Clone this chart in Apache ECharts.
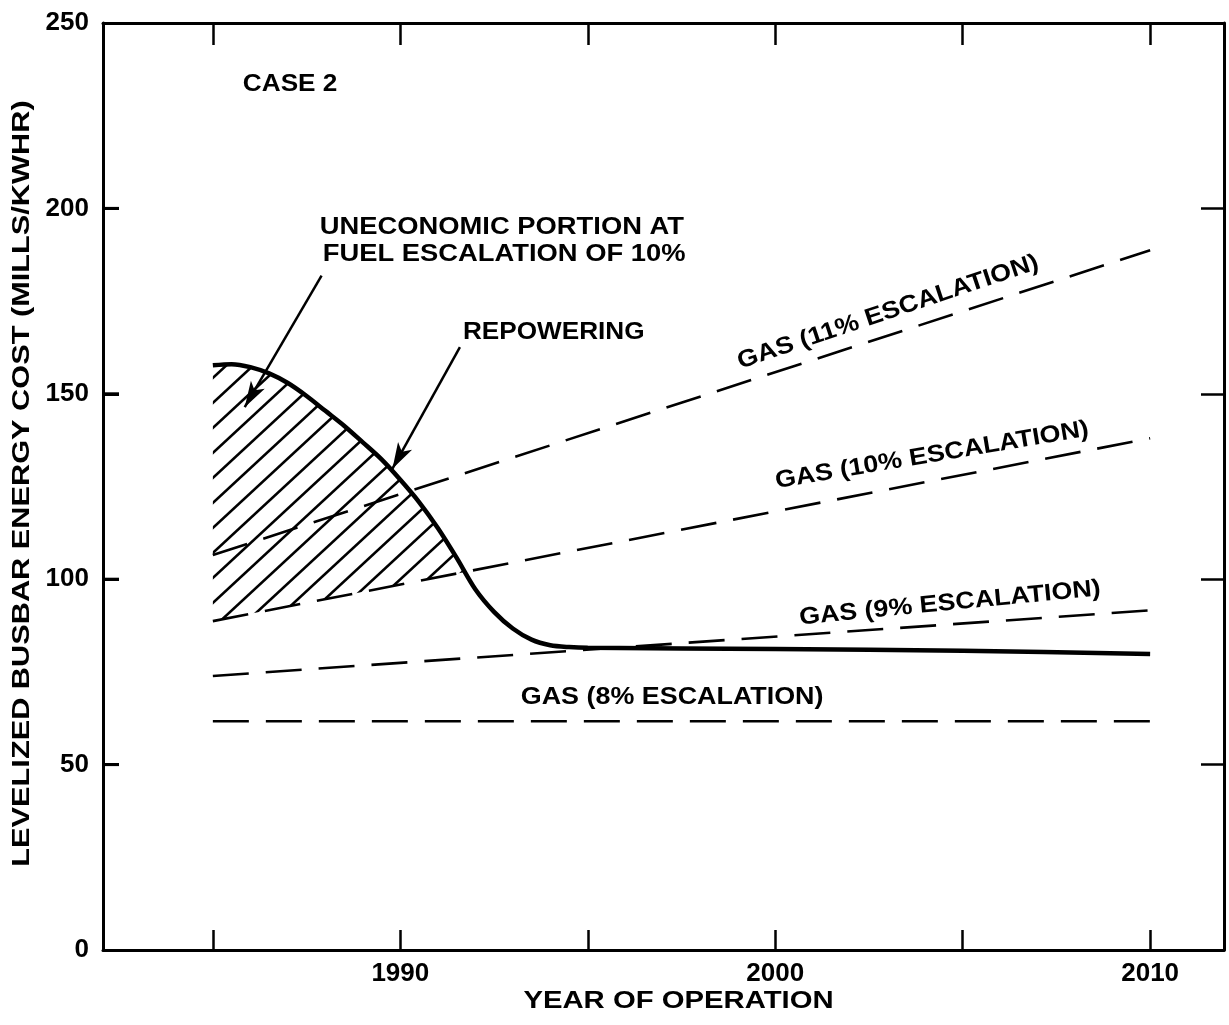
<!DOCTYPE html>
<html><head><meta charset="utf-8">
<script src="https://cdn.jsdelivr.net/npm/echarts@6/dist/echarts.min.js"></script>
<style>html,body{margin:0;padding:0;background:#fff}#c{width:1229px;height:1025px}</style>
</head><body><div id="c"></div>
<script>
// ---- data ----
const curveYears  = [1985, 1985.5, 1986, 1986.5, 1987, 1987.5, 1988, 1988.5, 1989, 1989.5, 1990, 1990.5, 1991, 1991.5, 1992, 1992.5, 1993, 1993.5, 1994, 1994.5, 1995, 2000, 2005, 2010];
const curveValues = [157.7, 158.0, 157.2, 155.5, 152.9, 149.4, 145.4, 141.4, 136.9, 132.3, 126.8, 120.8, 113.8, 105.8, 97.3, 91.2, 86.7, 83.7, 82.2, 81.7, 81.5, 81.2, 80.7, 79.8];
const gasYears = [1985, 2010];
const gas8  = [61.7, 61.7];
const gas9  = [73.9, 91.6];
const gas10 = [88.7, 138.0];
const gas11 = [106.5, 188.7];
const xTickValues  = [1985, 1990, 1995, 2000, 2005, 2010];
const xLabelValues = [1990, 2000, 2010];
const yTickValues  = [50, 100, 150, 200];
const gasNames = ['GAS (8% ESCALATION)', 'GAS (9% ESCALATION)', 'GAS (10% ESCALATION)', 'GAS (11% ESCALATION)'];
const caseLabel = 'CASE 2';
const uneconomicLabel = ['UNECONOMIC PORTION AT', 'FUEL ESCALATION OF 10%'];
const repoweringLabel = 'REPOWERING';
const xTitle = 'YEAR OF OPERATION';
const yTitle = 'LEVELIZED BUSBAR ENERGY COST (MILLS/KWHR)';

// ---- helpers ----
const FONT = '"Liberation Sans", Arial, Helvetica, sans-serif';
function pairs(xs, ys){ return xs.map((x,i)=>[x, ys[i]]); }
function gas10At(t){ return gas10[0] + (gas10[1]-gas10[0])*(t-gasYears[0])/(gasYears[1]-gasYears[0]); }

// hatch pattern
const HW = 27, HH = 25;
const hatch = document.createElement('canvas');
hatch.width = HW; hatch.height = HH;
(function(){
  const g = hatch.getContext('2d');
  g.strokeStyle = '#000'; g.lineWidth = 2.6; g.lineCap = 'butt';
  for (let k=-1;k<=1;k++){
    g.beginPath(); g.moveTo(k*HW-HW, 2*HH); g.lineTo(k*HW+2*HW, -HH); g.stroke();
  }
})();

const chart = echarts.init(document.getElementById('c'), null, {renderer:'canvas'});
const XMIN = 1982.07, XMAX = 2011.97;
const axisLine = {show:true, onZero:false, lineStyle:{color:'#000', width:3}};
const tickStyle = {color:'#000', width:2.5};

const gasSeries = [gas8, gas9, gas10, gas11].map((g,i)=>({
  name: gasNames[i], type:'line', data: pairs(gasYears, g), symbol:'none',
  lineStyle:{color:'#000', width:2.6, type:[36,17]}, z:3, silent:true
}));

const option = {
  animation:false,
  backgroundColor:'#fff',
  grid:{left:103, right:5, top:23, bottom:75},
  xAxis:[{
    type:'value', min:XMIN, max:XMAX, position:'bottom',
    axisLine, splitLine:{show:false},
    axisTick:{show:true, inside:true, length:20, lineStyle:tickStyle, customValues:xTickValues},
    axisLabel:{show:true, customValues:xLabelValues, margin:11, color:'#000', fontFamily:FONT, fontWeight:'bold', fontSize:26, formatter:v=>String(v)}
  },{
    type:'value', min:XMIN, max:XMAX, position:'top',
    axisLine, splitLine:{show:false},
    axisTick:{show:true, inside:true, length:22, lineStyle:tickStyle, customValues:xTickValues},
    axisLabel:{show:false}
  }],
  yAxis:[{
    type:'value', min:0, max:250, interval:50, position:'left',
    axisLine, splitLine:{show:false},
    axisTick:{show:true, inside:true, length:16, lineStyle:{color:'#000', width:3}},
    axisLabel:{show:true, margin:14, color:'#000', fontFamily:FONT, fontWeight:'bold', fontSize:26}
  },{
    type:'value', min:0, max:250, interval:50, position:'right',
    axisLine, splitLine:{show:false},
    axisTick:{show:true, inside:true, length:23, lineStyle:tickStyle},
    axisLabel:{show:false}
  }],
  series:[
    ...gasSeries,
    {
      // inward tick marks on the left frame, placed through the axis scales
      type:'custom', name:'leftTicks', data: yTickValues.map(v=>[XMIN, v]), z:20, silent:true, clip:false,
      renderItem:function(params, api){
        const p = api.coord([api.value(0), api.value(1)]);
        return {type:'rect', shape:{x:p[0], y:p[1]-1.5, width:16, height:3}, style:{fill:'#000'}};
      }
    },
    {
      type:'custom', name:'hatch', data:[[XMIN, 0]], z:2, silent:true,
      renderItem:function(params, api){
        let tc = null, vc = null, last = 0;
        for (let i=0;i<curveYears.length-1;i++){
          const f1 = curveValues[i]-gas10At(curveYears[i]);
          const f2 = curveValues[i+1]-gas10At(curveYears[i+1]);
          if (f1>0 && f2<=0){
            const r = f1/(f1-f2);
            tc = curveYears[i] + r*(curveYears[i+1]-curveYears[i]);
            vc = curveValues[i] + r*(curveValues[i+1]-curveValues[i]);
            last = i; break;
          }
        }
        const pts = [api.coord([curveYears[0], gas10At(curveYears[0])])];
        for (let i=0;i<=last;i++) pts.push(api.coord([curveYears[i], curveValues[i]]));
        pts.push(api.coord([tc, vc]));
        return {type:'polygon', shape:{points:pts}, style:{fill:{image:hatch, repeat:'repeat'}, stroke:null}};
      }
    },
    {
      name:'REPOWERING', type:'line', data: pairs(curveYears, curveValues), symbol:'none',
      smooth:0.3, lineStyle:{color:'#000', width:4.5}, z:5, silent:true,
      markLine:{
        silent:true, symbol:['none','arrow'], symbolSize:[12,26],
        label:{show:false},
        lineStyle:{color:'#000', width:2.5, type:'solid'},
        data:[
          [{coord:[1987.9, 181.9]}, {coord:[1985.85, 146.4]}],
          [{coord:[1991.59, 162.6]}, {coord:[1989.79, 129.8]}]
        ]
      }
    }
  ]
};
chart.setOption(option);

function px(x,y){ return chart.convertToPixel({xAxisIndex:0, yAxisIndex:0}, [x,y]); }
function txt(text, pos, opts){
  opts = opts || {};
  const size = opts.size || 24;
  return {
    type:'text', x:pos[0], y:pos[1],
    rotation:(opts.rot||0)*Math.PI/180, scaleX:opts.sx||1.12, scaleY:1,
    silent:true, z:10,
    style:{
      text:text, fill:'#000',
      font:'bold '+size+'px '+FONT, fontFamily:FONT, fontWeight:'bold', fontSize:size,
      textAlign:opts.align||'center', align:opts.align||'center',
      textVerticalAlign:'middle', verticalAlign:'middle'
    }
  };
}
const annot = [
  txt(caseLabel, px(1985.8, 233.4), {align:'left', sx:1.09}),
  txt(uneconomicLabel[0], px(1987.85, 194.9), {align:'left', sx:1.14}),
  txt(uneconomicLabel[1], px(1987.93, 187.6), {align:'left', sx:1.14}),
  txt(repoweringLabel, px(1991.67, 166.6), {align:'left', sx:1.09}),
  txt(gasNames[3], px(2003.01, 172.0), {rot:18.5, sx:1.12}),
  txt(gasNames[2], px(2004.18, 133.4), {rot:9.5, sx:1.12}),
  txt(gasNames[1], px(2004.66, 93.5), {rot:5.5, sx:1.12}),
  txt(gasNames[0], px(1997.25, 68.2), {rot:0, sx:1.12})
];
const bl = px(XMIN, 0), tr = px(XMAX, 250);
annot.push(txt(xTitle, [(bl[0]+tr[0])/2 + 15, bl[1]+51], {sx:1.22}));
annot.push(txt(yTitle, [bl[0]-81, (bl[1]+tr[1])/2 - 3], {rot:90, sx:1.28}));
chart.setOption({graphic:{elements:annot}});
</script>
</body></html>
